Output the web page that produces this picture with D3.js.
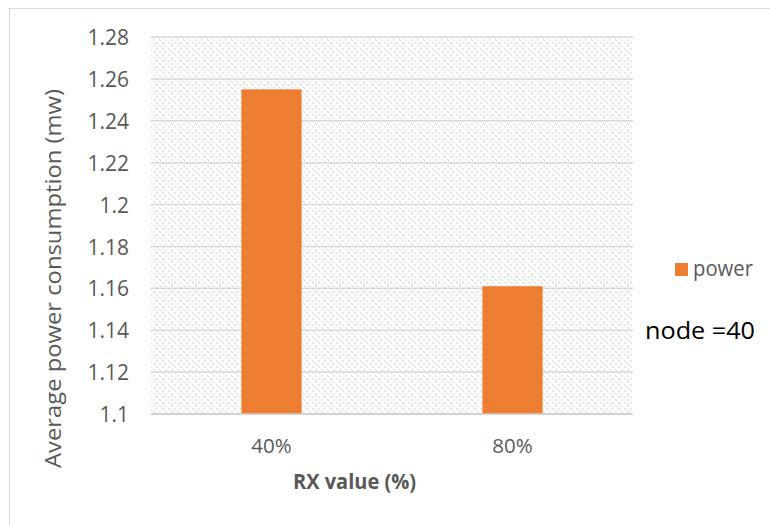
<!DOCTYPE html>
<html><head><meta charset="utf-8">
<script src="https://cdn.jsdelivr.net/npm/d3@7"></script>
<style>html,body{margin:0;padding:0;background:#fff;}svg{display:block;}</style>
</head><body>
<script>
const categories = ["40%", "80%"];
const powerValues = [1.255, 1.161];
const yTicks = [1.1, 1.12, 1.14, 1.16, 1.18, 1.2, 1.22, 1.24, 1.26, 1.28];
const seriesName = "power";
const noteText = "node =40";
const xTitle = "RX value (%)";
const yTitle = "Average power consumption (mw)";

const W = 770, H = 525;
const svg = d3.select("body").append("svg").attr("width", W).attr("height", H);
const font = "'Open Sans', 'Noto Sans', sans-serif";

// outer chart border (extends past visible area on right/bottom)
svg.append("rect").attr("x", 9.5).attr("y", 8.5).attr("width", 800).attr("height", 600)
  .attr("fill", "#fff").attr("stroke", "#D9D9D9").attr("stroke-width", 1);

const defs = svg.append("defs");
const pat = defs.append("pattern").attr("id", "hatch").attr("patternUnits", "userSpaceOnUse")
  .attr("width", 6).attr("height", 6);
pat.append("rect").attr("width", 6).attr("height", 6).attr("fill", "#fff");
[0, 1, 2, 3, 4, 5].forEach(i => {
  if (i % 3 !== 2) pat.append("rect").attr("x", i).attr("y", i).attr("width", 1).attr("height", 1).attr("fill", "#d3d3d3");
});

const x = d3.scaleBand().domain(categories).range([151, 633]).paddingInner(0.75).paddingOuter(0.375);
const y = d3.scaleLinear().domain([1.1, 1.28]).range([414, 37]);

// plot background pattern
svg.append("rect").attr("x", x.range()[0]).attr("y", y(1.28)).attr("width", x.range()[1] - x.range()[0])
  .attr("height", y(1.1) - y(1.28)).attr("fill", "url(#hatch)");

// gridlines
svg.append("g").selectAll("line").data(yTicks).join("line")
  .attr("x1", x.range()[0]).attr("x2", x.range()[1])
  .attr("y1", d => y(d)).attr("y2", d => y(d))
  .attr("stroke", "#D9D9D9").attr("stroke-width", 1.5);

// bars
svg.append("g").selectAll("rect").data(categories).join("rect")
  .attr("x", d => x(d)).attr("width", x.bandwidth())
  .attr("y", (d, i) => y(powerValues[i])).attr("height", (d, i) => y(1.1) - y(powerValues[i]))
  .attr("fill", "#ED7D31");

// x axis line
svg.append("line").attr("x1", x.range()[0]).attr("x2", x.range()[1]).attr("y1", y(1.1)).attr("y2", y(1.1))
  .attr("stroke", "#D0D0D0").attr("stroke-width", 1.5);

// y axis
const yAxis = d3.axisLeft(y).tickValues(yTicks).tickFormat(d3.format("~g")).tickSize(0).tickPadding(0);
const ya = svg.append("g").attr("transform", "translate(129,0)").call(yAxis);
ya.select(".domain").remove();
ya.selectAll("text").attr("font-family", font).attr("font-size", 21).attr("fill", "#595959")
  .attr("dy", "0.36em");

// x axis labels
const xAxis = d3.axisBottom(x).tickSize(0).tickPadding(0);
const xa = svg.append("g").attr("transform", "translate(0,453)").call(xAxis);
xa.select(".domain").remove();
xa.selectAll("text").attr("font-family", font).attr("font-size", 20.5).attr("fill", "#595959").attr("dy", 0);

// axis titles
svg.append("text").attr("x", 354.5).attr("y", 489).attr("text-anchor", "middle")
  .attr("font-family", font).attr("font-size", 20.5).attr("font-weight", "bold").attr("fill", "#595959")
  .attr("textLength", 123).attr("lengthAdjust", "spacingAndGlyphs").text(xTitle);

svg.append("text").attr("transform", "translate(61,278.5) rotate(-90)").attr("text-anchor", "middle")
  .attr("font-family", font).attr("font-size", 22).attr("fill", "#595959")
  .attr("textLength", 379).attr("lengthAdjust", "spacingAndGlyphs").text(yTitle);

// legend
svg.append("rect").attr("x", 675).attr("y", 263).attr("width", 13).attr("height", 13).attr("fill", "#ED7D31");
svg.append("text").attr("x", 693).attr("y", 276).attr("font-family", font).attr("font-size", 21)
  .attr("fill", "#595959").attr("textLength", 60).attr("lengthAdjust", "spacingAndGlyphs").text(seriesName);

// note
svg.append("text").attr("x", 645).attr("y", 339).attr("font-family", font).attr("font-size", 24.5)
  .attr("fill", "#000").attr("textLength", 110).attr("lengthAdjust", "spacingAndGlyphs").text(noteText);
</script>
</body></html>
